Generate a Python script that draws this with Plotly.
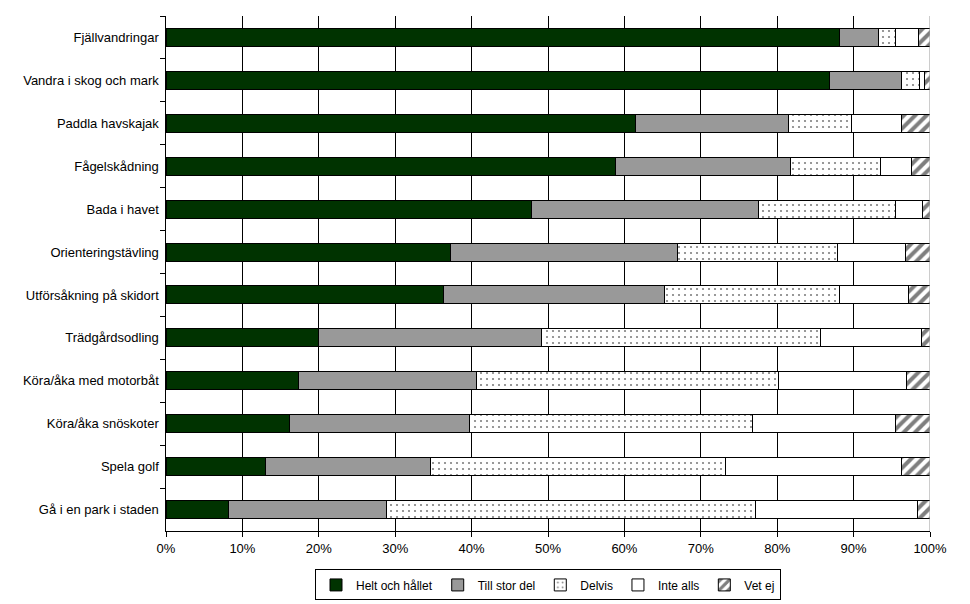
import plotly.graph_objects as go

categories = [
    "Fjällvandringar", "Vandra i skog och mark", "Paddla havskajak", "Fågelskådning",
    "Bada i havet", "Orienteringstävling", "Utförsåkning på skidort", "Trädgårdsodling",
    "Köra/åka med motorbåt", "Köra/åka snöskoter", "Spela golf", "Gå i en park i staden",
]
helt = [88.2, 86.9, 61.5, 58.8, 47.8, 37.3, 36.3, 20.0, 17.3, 16.1, 13.0, 8.2]
till_stor = [5.0, 9.4, 20.0, 22.9, 29.8, 29.7, 28.9, 29.2, 23.3, 23.6, 21.6, 20.6]
delvis = [2.3, 2.3, 8.2, 11.8, 17.9, 20.9, 22.9, 36.5, 39.6, 37.1, 38.6, 48.3]
inte_alls = [3.0, 0.7, 6.6, 4.1, 3.5, 8.9, 9.1, 13.2, 16.7, 18.7, 23.1, 21.3]
vet_ej = [1.5, 0.7, 3.7, 2.4, 1.0, 3.2, 2.8, 1.1, 3.1, 4.5, 3.7, 1.6]
series_names = ["Helt och hållet", "Till stor del", "Delvis", "Inte alls", "Vet ej"]

font = "Arial, Liberation Sans, sans-serif"
line = dict(color="black", width=1)

fig = go.Figure()
fig.add_trace(go.Bar(y=categories, x=helt, name=series_names[0], orientation="h",
                     marker=dict(color="#003300", line=line)))
fig.add_trace(go.Bar(y=categories, x=till_stor, name=series_names[1], orientation="h",
                     marker=dict(color="#999999", line=line)))
fig.add_trace(go.Bar(y=categories, x=delvis, name=series_names[2], orientation="h",
                     marker=dict(color="white", line=line,
                                 pattern=dict(shape=".", fgcolor="black", bgcolor="white",
                                              size=6, solidity=0.1))))
fig.add_trace(go.Bar(y=categories, x=inte_alls, name=series_names[3], orientation="h",
                     marker=dict(color="white", line=line)))
fig.add_trace(go.Bar(y=categories, x=vet_ej, name=series_names[4], orientation="h",
                     marker=dict(color="white", line=line,
                                 pattern=dict(shape="/", fgcolor="black", bgcolor="white",
                                              size=8, solidity=0.5))))

fig.update_layout(
    barmode="stack",
    bargap=0.58,
    width=962, height=596,
    margin=dict(l=158, r=40, t=8, b=73),
    paper_bgcolor="white", plot_bgcolor="white",
    font=dict(family=font, size=12, color="black"),
    legend=dict(orientation="h", x=0.5, xanchor="center",
                yref="container", y=0.058, yanchor="top",
                bordercolor="black", borderwidth=1, font=dict(size=12, family=font),
                itemwidth=30, traceorder="normal", tracegroupgap=0),
    showlegend=True,
)
fig.update_xaxes(range=[0, 100], dtick=10, ticksuffix="%", showgrid=True,
                 gridcolor="black", gridwidth=1, showline=True, linecolor="black",
                 linewidth=1, ticks="outside", ticklen=5, tickcolor="black",
                 zeroline=False, tickfont=dict(size=13))
fig.update_yaxes(autorange="reversed", showline=True, linecolor="black", linewidth=1,
                 ticks="outside", ticklen=5, tickcolor="black", tickson="boundaries",
                 showgrid=False, tickfont=dict(size=13), ticksuffix=" ")
fig.add_shape(type="line", xref="x", yref="paper", x0=100, x1=100, y0=0, y1=1,
              line=dict(color="#999999", width=1))

fig.write_html("out.html")
